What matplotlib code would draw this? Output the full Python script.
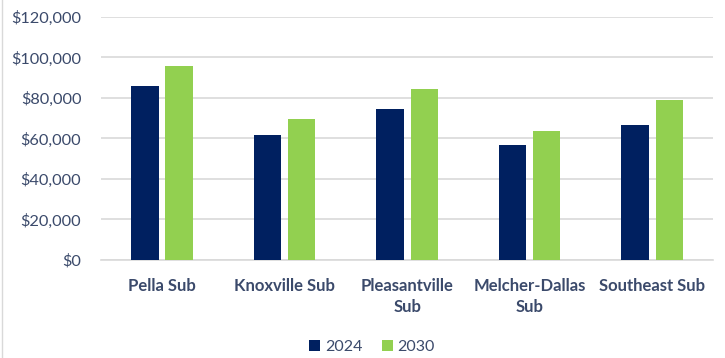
import matplotlib.pyplot as plt
import numpy as np
from matplotlib.lines import Line2D
from matplotlib.ticker import FuncFormatter

categories = ["Pella Sub", "Knoxville Sub", "Pleasantville\nSub", "Melcher-Dallas\nSub", "Southeast Sub"]
values_2024 = [85800, 61800, 74500, 56900, 66400]
values_2030 = [95500, 69500, 84300, 63800, 78900]
series_labels = ["2024", "2030"]

navy = "#002060"
green = "#92D050"
text_color = "#3B4A6B"
grid_color = "#D9D9D9"

plt.rcParams['font.family'] = ['Lato', 'DejaVu Sans']

fig = plt.figure(figsize=(7.25, 3.58), dpi=100)
ax = fig.add_axes([0.139, 0.274, 0.845, 0.679])

x = np.arange(len(categories))
w = 0.224
off = 0.14
ax.bar(x - off, values_2024, width=w, color=navy, label=series_labels[0], zorder=3)
ax.bar(x + off, values_2030, width=w, color=green, label=series_labels[1], zorder=3)

ax.set_xlim(-0.5, len(categories) - 0.5)
ax.set_ylim(0, 120000)
ax.set_yticks(np.arange(0, 120001, 20000))
ax.yaxis.set_major_formatter(FuncFormatter(lambda v, p: "${:,.0f}".format(v)))
ax.grid(axis='y', color=grid_color, linewidth=1.2, zorder=0)
ax.set_axisbelow(True)

for s in ['top', 'right', 'left']:
    ax.spines[s].set_visible(False)
ax.spines['bottom'].set_color(grid_color)
ax.spines['bottom'].set_linewidth(1.2)

ax.tick_params(length=0)
ax.tick_params(axis='y', labelsize=11.8, labelcolor=text_color, pad=14)
ax.set_xticks(x)
ax.set_xticklabels(categories, fontsize=12, fontweight='bold', color=text_color, linespacing=1.35)
ax.tick_params(axis='x', pad=13)

fig.legend(loc='center', bbox_to_anchor=(0.513, 0.03), ncol=2, frameon=False,
           fontsize=11.5, labelcolor=text_color, handlelength=0.7, handleheight=0.7,
           handletextpad=0.3, columnspacing=1.2)

# light chart border on the left edge
fig.add_artist(Line2D([0.003, 0.003], [0, 1], transform=fig.transFigure, color=grid_color, linewidth=1))

plt.savefig("out.png", dpi=100)
